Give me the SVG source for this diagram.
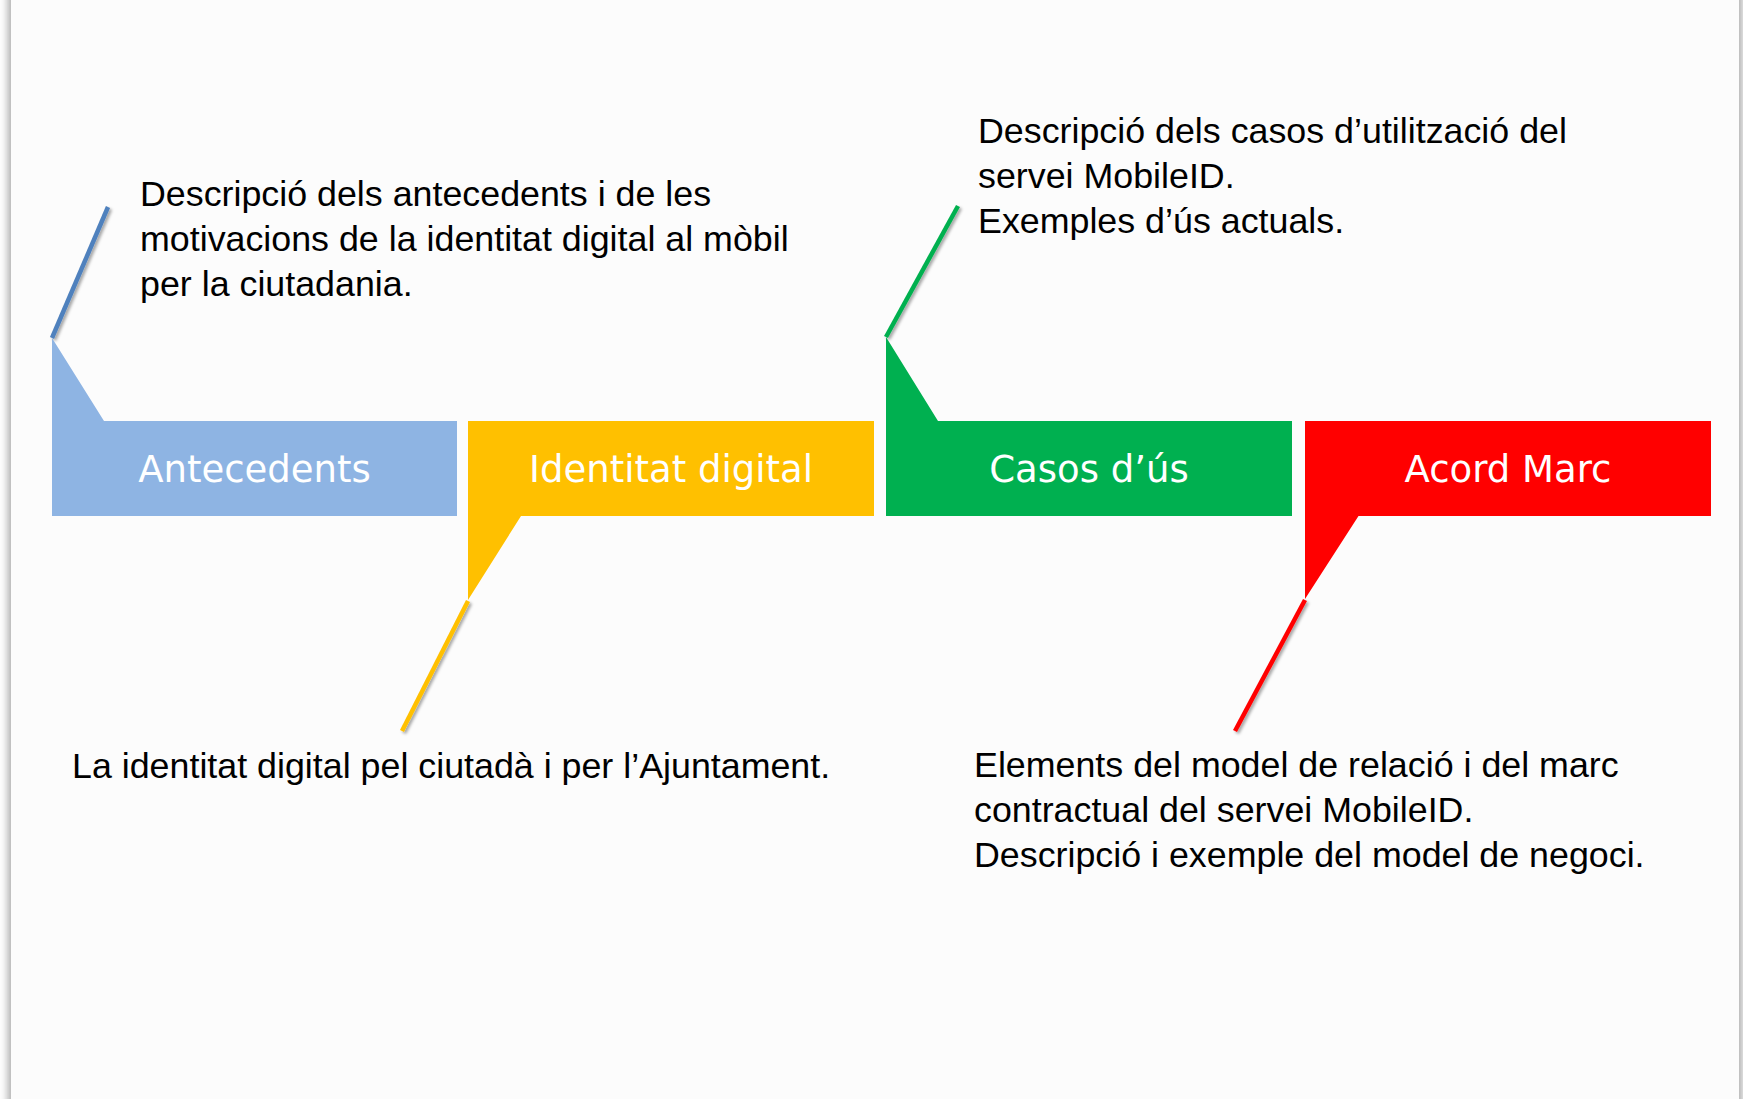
<svg xmlns="http://www.w3.org/2000/svg" width="1743" height="1099" viewBox="0 0 1743 1099">
<style>
.lbl{font-family:"DejaVu Sans",Verdana,sans-serif;font-size:37px;fill:#FFFFFF;text-anchor:middle}
.desc{font-family:"Liberation Sans",Arial,sans-serif;font-size:35.8px;fill:#000000}
.ln{stroke-width:4.5;fill:none;stroke-linecap:butt}
</style>
<defs>
<filter id="pageShadow" x="-5%" y="-5%" width="110%" height="110%">
<feGaussianBlur stdDeviation="4"/>
</filter>
<filter id="lineShadow" x="-50%" y="-50%" width="200%" height="200%">
<feDropShadow dx="2" dy="2" stdDeviation="1.5" flood-color="#000000" flood-opacity="0.35"/>
</filter>
</defs>
<rect x="0" y="0" width="1743" height="1099" fill="#FFFFFF"/>
<rect x="8" y="-20" width="1734" height="1140" fill="#A8A8A8" filter="url(#pageShadow)"/>
<rect x="11" y="-5" width="1728" height="1120" fill="#FCFCFC"/>

<g id="connectors">
<line class="ln" x1="52" y1="338" x2="108" y2="207" stroke="#4F81BD" filter="url(#lineShadow)"/>
<line class="ln" x1="468" y1="601" x2="402" y2="731" stroke="#FFC000" filter="url(#lineShadow)"/>
<line class="ln" x1="886" y1="337" x2="958" y2="206" stroke="#00B050" filter="url(#lineShadow)"/>
<line class="ln" x1="1305" y1="600" x2="1235" y2="731" stroke="#FF0000" filter="url(#lineShadow)"/>
</g>

<g id="antecedents">
<path d="M52,421 L52,338 L104,421 L457,421 L457,516 L52,516 Z" fill="#8EB4E3"/>
<text class="lbl" x="254.5" y="482">Antecedents</text>
</g>
<g id="identitat">
<path d="M468,421 L874,421 L874,516 L521,516 L468,600 Z" fill="#FFC000"/>
<text class="lbl" x="671" y="482">Identitat digital</text>
</g>
<g id="casos">
<path d="M886,421 L886,337 L938,421 L1292,421 L1292,516 L886,516 Z" fill="#00B050"/>
<text class="lbl" x="1089" y="482">Casos d’ús</text>
</g>
<g id="acord">
<path d="M1305,421 L1711,421 L1711,516 L1358.5,516 L1305,599 Z" fill="#FF0000"/>
<text class="lbl" x="1508" y="482">Acord Marc</text>
</g>

<g id="desc-antecedents">
<text class="desc" x="140" y="206">Descripció dels antecedents i de les</text>
<text class="desc" x="140" y="251">motivacions de la identitat digital al mòbil</text>
<text class="desc" x="140" y="296">per la ciutadania.</text>
</g>
<g id="desc-identitat">
<text class="desc" x="72" y="778">La identitat digital pel ciutadà i per l’Ajuntament.</text>
</g>
<g id="desc-casos">
<text class="desc" x="978" y="143">Descripció dels casos d’utilització del</text>
<text class="desc" x="978" y="188">servei MobileID.</text>
<text class="desc" x="978" y="233">Exemples d’ús actuals.</text>
</g>
<g id="desc-acord">
<text class="desc" x="974" y="777">Elements del model de relació i del marc</text>
<text class="desc" x="974" y="822">contractual del servei MobileID.</text>
<text class="desc" x="974" y="867">Descripció i exemple del model de negoci.</text>
</g>
</svg>
